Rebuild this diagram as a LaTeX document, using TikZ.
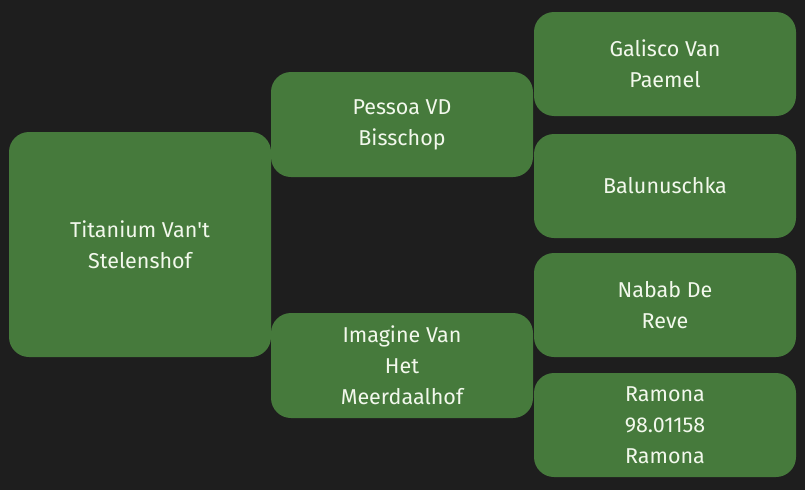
\documentclass[tikz,border=0pt]{standalone}
\usepackage{fontspec}
\setmainfont{Fira Sans}
\definecolor{bg}{HTML}{1E1E1E}
\definecolor{boxgreen}{HTML}{467A3C}
\definecolor{txt}{HTML}{F2F8EC}
\begin{document}
\begin{tikzpicture}[x=1pt,y=-1pt,
  horse/.style={fill=boxgreen, draw=none, rounded corners=20pt, inner sep=0pt,
    text=txt, align=center, font=\fontsize{21.5}{31}\selectfont}]
\fill[bg] (0,0) rectangle (805,490);
\useasboundingbox (0,0) rectangle (805,490);
\node[horse, minimum width=262pt, minimum height=225pt] (root) at (140,244.5) {Titanium Van\textquotesingle t\\Stelenshof};
\node[horse, minimum width=262pt, minimum height=105pt] (sire) at (402,124.5) {Pessoa VD\\Bisschop};
\node[horse, minimum width=262pt, minimum height=105pt] (dam) at (402,365.5) {Imagine Van\\Het\\Meerdaalhof};
\node[horse, minimum width=262pt, minimum height=104pt] (ss) at (665,64) {Galisco Van\\Paemel};
\node[horse, minimum width=262pt, minimum height=104pt] (sd) at (665,186) {Balunuschka};
\node[horse, minimum width=262pt, minimum height=104pt] (ds) at (665,305) {Nabab De\\Reve};
\node[horse, minimum width=262pt, minimum height=104pt] (dd) at (665,425) {Ramona\\98.01158\\Ramona};
\end{tikzpicture}
\end{document}
